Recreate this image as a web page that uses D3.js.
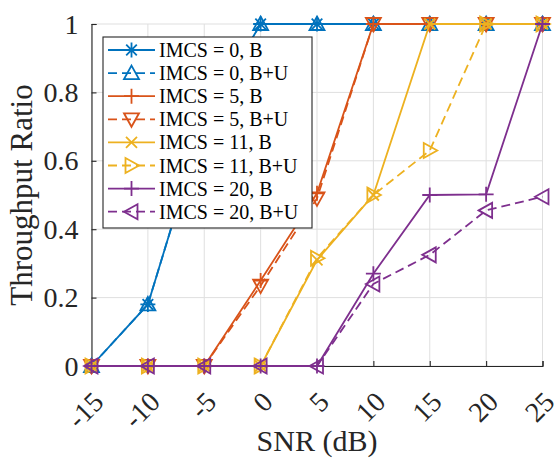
<!DOCTYPE html>
<html>
<head>
<meta charset="utf-8">
<script src="https://cdn.jsdelivr.net/npm/d3@7"></script>
<style>
  body { margin: 0; background: #fff; }
</style>
</head>
<body>
<svg id="chart"></svg>
<script>
var width = 558, height = 458;
var margin = {top: 24, right: 15.5, bottom: 92, left: 91.5};
var font = "'Liberation Serif'";

// data
var snr = [-15, -10, -5, 0, 5, 10, 15, 20, 25];
var imcs0B  = [0, 0.18, 0.72, 1, 1, 1, 1, 1, 1];
var imcs0BU = [0, 0.18, 0.72, 1, 1, 1, 1, 1, 1];
var imcs5B  = [0, 0, 0, 0.25, 0.505, 1, 1, 1, 1];
var imcs5BU = [0, 0, 0, 0.235, 0.49, 1, 1, 1, 1];
var imcs11B  = [0, 0, 0, 0, 0.31, 0.5, 1, 1, 1];
var imcs11BU = [0, 0, 0, 0, 0.315, 0.5, 0.63, 1, 1];
var imcs20B  = [0, 0, 0, 0, 0, 0.27, 0.5, 0.502, 1];
var imcs20BU = [0, 0, 0, 0, 0, 0.24, 0.325, 0.455, 0.495];

var xTicks = [-15, -10, -5, 0, 5, 10, 15, 20, 25];
var yTicks = [0, 0.2, 0.4, 0.6, 0.8, 1];

var series = [
  {name: "IMCS = 0, B",    vals: imcs0B,   color: "#0072BD", dash: null, marker: "star"},
  {name: "IMCS = 0, B+U",  vals: imcs0BU,  color: "#0072BD", dash: "9,5", marker: "up"},
  {name: "IMCS = 5, B",    vals: imcs5B,   color: "#D95319", dash: null, marker: "plus"},
  {name: "IMCS = 5, B+U",  vals: imcs5BU,  color: "#D95319", dash: "9,5", marker: "down"},
  {name: "IMCS = 11, B",   vals: imcs11B,  color: "#EDB120", dash: null, marker: "cross"},
  {name: "IMCS = 11, B+U", vals: imcs11BU, color: "#EDB120", dash: "9,5", marker: "right"},
  {name: "IMCS = 20, B",   vals: imcs20B,  color: "#7E2F8E", dash: null, marker: "plus"},
  {name: "IMCS = 20, B+U", vals: imcs20BU, color: "#7E2F8E", dash: "9,5", marker: "left"}
];

var svg = d3.select("#chart").attr("width", width).attr("height", height);

var x = d3.scaleLinear().domain([-15, 25]).range([margin.left, width - margin.right]);
var y = d3.scaleLinear().domain([0, 1]).range([height - margin.bottom, margin.top]);

var axisColor = "#262626";

// grid
svg.append("g").selectAll("line").data(xTicks).join("line")
  .attr("x1", d => x(d)).attr("x2", d => x(d))
  .attr("y1", y(0)).attr("y2", y(1))
  .attr("stroke", "#dfdfdf").attr("stroke-width", 1);
svg.append("g").selectAll("line").data(yTicks).join("line")
  .attr("x1", x(-15)).attr("x2", x(25))
  .attr("y1", d => y(d)).attr("y2", d => y(d))
  .attr("stroke", "#dfdfdf").attr("stroke-width", 1);

// axes (ticks inward, like matlab)
var gx = svg.append("g")
  .attr("transform", "translate(0," + y(0) + ")")
  .call(d3.axisTop(x).tickValues(xTicks).tickSize(5).tickFormat(""));
var gy = svg.append("g")
  .attr("transform", "translate(" + x(-15) + ",0)")
  .call(d3.axisRight(y).tickValues(yTicks).tickSize(5).tickFormat(""));
[gx, gy].forEach(function (g) {
  g.select(".domain").attr("stroke", axisColor).attr("stroke-width", 1.1);
  g.selectAll(".tick line").attr("stroke", axisColor).attr("stroke-width", 1.1);
});

// tick labels
svg.append("g").selectAll("text").data(xTicks).join("text")
  .attr("transform", d => "translate(" + (x(d) + 7) + "," + (y(0) + 31) + ") rotate(-45)")
  .attr("text-anchor", "end")
  .attr("dominant-baseline", "central")
  .attr("fill", axisColor)
  .attr("font-family", font)
  .attr("font-size", 28)
  .text(d => String(d));
svg.append("g").selectAll("text").data(yTicks).join("text")
  .attr("x", x(-15) - 13)
  .attr("y", d => y(d))
  .attr("text-anchor", "end")
  .attr("dominant-baseline", "central")
  .attr("fill", axisColor)
  .attr("font-family", font)
  .attr("font-size", 28)
  .text(d => d3.format("~g")(d));

// axis titles
svg.append("text")
  .attr("x", 317).attr("y", 451)
  .attr("text-anchor", "middle")
  .attr("fill", axisColor)
  .attr("font-family", font)
  .attr("font-size", 30)
  .text("SNR (dB)");
svg.append("text")
  .attr("transform", "translate(32," + ((y(0) + y(1)) / 2) + ") rotate(-90)")
  .attr("text-anchor", "middle")
  .attr("fill", axisColor)
  .attr("font-family", font)
  .attr("font-size", 31)
  .text("Throughput Ratio");

// markers
function drawMarker(g, type, color) {
  var s = 7.5;
  if (type === "star") {
    g.append("path")
      .attr("d", "M" + (-s) + ",0H" + s + "M0," + (-s) + "V" + s +
        "M-5.3,-5.3L5.3,5.3M-5.3,5.3L5.3,-5.3");
  } else if (type === "plus") {
    g.append("path").attr("d", "M" + (-s) + ",0H" + s + "M0," + (-s) + "V" + s);
  } else if (type === "cross") {
    g.append("path").attr("d", "M-5.5,-5.5L5.5,5.5M-5.5,5.5L5.5,-5.5");
  } else {
    var pts = {
      up:    [[0, -7.5], [7.5, 6], [-7.5, 6]],
      down:  [[0, 7.5], [7.5, -6], [-7.5, -6]],
      right: [[7.5, 0], [-6, -7.5], [-6, 7.5]],
      left:  [[-7.5, 0], [6, -7.5], [6, 7.5]]
    }[type];
    g.append("path").attr("d", "M" + pts.join("L") + "Z");
  }
  g.selectAll("path")
    .attr("fill", "none")
    .attr("stroke", color)
    .attr("stroke-width", 1.8);
}

var line = d3.line().x(d => x(d[0])).y(d => y(d[1]));

series.forEach(function (s) {
  var pts = snr.map((v, i) => [v, s.vals[i]]);
  var g = svg.append("g");
  g.append("path")
    .attr("d", line(pts))
    .attr("fill", "none")
    .attr("stroke", s.color)
    .attr("stroke-width", 1.8)
    .attr("stroke-dasharray", s.dash);
  pts.forEach(function (p) {
    var m = g.append("g").attr("transform", "translate(" + x(p[0]) + "," + y(p[1]) + ")");
    drawMarker(m, s.marker, s.color);
  });
});

// legend
var lg = svg.append("g");
lg.append("rect")
  .attr("x", 103).attr("y", 37).attr("width", 209).attr("height", 191)
  .attr("fill", "#fff").attr("stroke", axisColor).attr("stroke-width", 1.1);
series.forEach(function (s, i) {
  var cy = 50 + i * 23.1;
  var row = lg.append("g");
  row.append("line")
    .attr("x1", 108).attr("x2", 155).attr("y1", cy).attr("y2", cy)
    .attr("stroke", s.color).attr("stroke-width", 1.8)
    .attr("stroke-dasharray", s.dash);
  var m = row.append("g").attr("transform", "translate(131.5," + cy + ")");
  drawMarker(m, s.marker, s.color);
  row.append("text")
    .attr("x", 159).attr("y", cy)
    .attr("dominant-baseline", "central")
    .attr("fill", "#000")
    .attr("font-family", font)
    .attr("font-size", 20)
    .text(s.name);
});
</script>
</body>
</html>
